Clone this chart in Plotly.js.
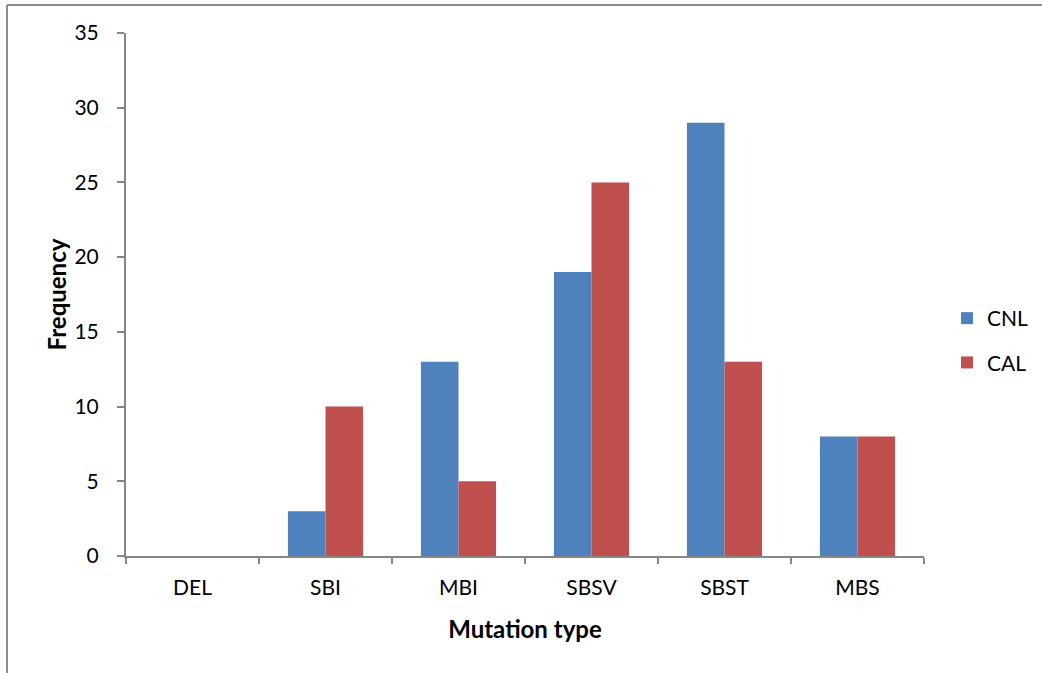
<!DOCTYPE html>
<html>
<head>
<meta charset="utf-8">
<script src="https://cdn.plot.ly/plotly-3.0.1.min.js"></script>
<style>html,body{margin:0;padding:0;background:#fff;}#chart{width:1042px;height:673px;}</style>
</head>
<body>
<div id="chart"></div>
<script>
const categories = ["DEL", "SBI", "MBI", "SBSV", "SBST", "MBS"];
const cnl = [0, 3, 13, 19, 29, 8];
const cal = [0, 10, 5, 25, 13, 8];
const seriesNames = ["CNL", "CAL"];
const yTicks = [0, 5, 10, 15, 20, 25, 30, 35];

const W = 1042, H = 673;
const L = 126, R = 118, T = 33, B = 117;
const pw = W - L - R, ph = H - T - B;
const px = x => (x - L) / pw;
const py = y => (H - B - y) / ph;

const font = "Lato, 'Liberation Sans', sans-serif";
const axisGray = "#868686";

const traces = [
  {type: "bar", name: seriesNames[0], x: categories, y: cnl, marker: {color: "#4F81BD"}, legendgroup: "a"},
  {type: "bar", name: seriesNames[1], x: categories, y: cal, marker: {color: "#C0504D"}, legendgroup: "b"}
];

const layout = {
  width: W, height: H,
  margin: {l: L, r: R, t: T, b: B, pad: 0, autoexpand: false},
  paper_bgcolor: "#fff", plot_bgcolor: "#fff",
  font: {family: font, size: 21, color: "#000"},
  barmode: "group",
  bargap: 0.435,
  bargroupgap: 0,
  showlegend: true,
  legend: {
    x: px(947), y: py(298), xanchor: "left", yanchor: "top",
    traceorder: "grouped", tracegroupgap: 14,
    font: {family: font, size: 21, color: "#000"},
    itemwidth: 30
  },
  xaxis: {
    type: "category",
    showline: true, linecolor: axisGray, linewidth: 2,
    ticks: "outside", tickson: "boundaries", ticklen: 6, tickcolor: axisGray, tickwidth: 2,
    showgrid: false, zeroline: false,
    ticklabelstandoff: 12,
    tickfont: {family: font, size: 21, color: "#000"},
    title: {text: "<b>Mutation type</b>", font: {family: font, size: 24, color: "#000"}, standoff: 23}
  },
  yaxis: {
    range: [0, 35],
    tickvals: yTicks,
    showline: true, linecolor: axisGray, linewidth: 2,
    ticks: "outside", ticklen: 7, tickcolor: axisGray, tickwidth: 2,
    showgrid: false, zeroline: false,
    ticklabelstandoff: 14,
    tickfont: {family: font, size: 21, color: "#000"},
    title: {text: "<b>Frequency</b>", font: {family: font, size: 24, color: "#000"}, standoff: 1}
  },
  shapes: [
    {type: "line", xref: "paper", yref: "paper", x0: px(7), x1: px(7), y0: py(5), y1: py(673), line: {color: "#8c8c8c", width: 2}},
    {type: "line", xref: "paper", yref: "paper", x0: px(7), x1: px(1042), y0: py(5), y1: py(5), line: {color: "#8c8c8c", width: 2}}
  ]
};

Plotly.newPlot("chart", traces, layout, {displayModeBar: false, staticPlot: true});
</script>
</body>
</html>
